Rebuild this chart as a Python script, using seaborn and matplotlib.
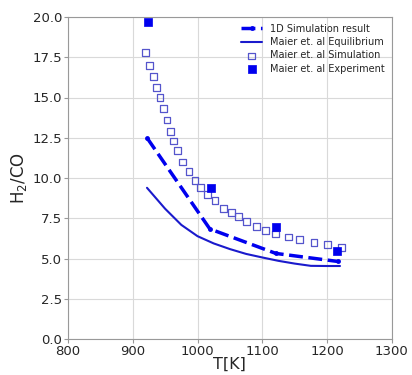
import matplotlib
matplotlib.use("Agg")
import matplotlib.pyplot as plt
import seaborn as sns

# 1D simulation result
sim1d_T = [922, 1019, 1121, 1217]
sim1d_y = [12.5, 6.85, 5.33, 4.83]

# Maier et al. equilibrium
eq_T = [922, 950, 975, 1000, 1025, 1050, 1075, 1100, 1125, 1150, 1175, 1200, 1220]
eq_y = [9.4, 8.1, 7.1, 6.4, 5.95, 5.6, 5.3, 5.08, 4.87, 4.7, 4.56, 4.55, 4.55]

# Maier et al. simulation
msim_T = [920, 926, 932, 937, 942, 947, 953, 958, 963, 969, 977, 987, 996, 1005,
          1016, 1027, 1040, 1052, 1063, 1076, 1091, 1105, 1121, 1140, 1157, 1180, 1201, 1222]
msim_y = [17.8, 17.0, 16.3, 15.6, 15.0, 14.3, 13.6, 12.9, 12.3, 11.7, 11.0, 10.4, 9.85, 9.4,
          8.98, 8.6, 8.1, 7.85, 7.6, 7.3, 7.0, 6.77, 6.54, 6.35, 6.17, 6.0, 5.9, 5.7]

# Maier et al. experiment
exp_T = [923, 1021, 1121, 1216]
exp_y = [19.7, 9.4, 6.95, 5.5]

sns.set_style("whitegrid", {"axes.edgecolor": "0.6", "grid.color": "0.85",
                            "xtick.bottom": True, "ytick.left": True})

fig, ax = plt.subplots(figsize=(4.12, 3.75), dpi=100)
fig.subplots_adjust(left=0.165, right=0.951, top=0.955, bottom=0.095)

sns.lineplot(x=sim1d_T, y=sim1d_y, ax=ax, color="#0000ee", linestyle="--",
             linewidth=2.5, marker="o", markersize=3.5, markeredgewidth=0,
             label="1D Simulation result")
ax.lines[-1].set_dashes([4, 1.6])
sns.lineplot(x=eq_T, y=eq_y, ax=ax, color="#1a1acc", linewidth=1.5,
             label="Maier et. al Equilibrium")
sns.scatterplot(x=msim_T, y=msim_y, ax=ax, marker="s", s=24, facecolor="none",
                edgecolor="#5555cc", linewidth=0.9, label="Maier et. al Simulation")
sns.scatterplot(x=exp_T, y=exp_y, ax=ax, marker="s", s=28, color="#0000ee",
                edgecolor="#0000ee", linewidth=0.5, label="Maier et. al Experiment")

ax.set_xlim(800, 1300)
ax.set_ylim(0, 20)
ax.set_xticks([800, 900, 1000, 1100, 1200, 1300])
ax.set_yticks([0, 2.5, 5, 7.5, 10, 12.5, 15, 17.5, 20])
ax.set_yticklabels(["0.0", "2.5", "5.0", "7.5", "10.0", "12.5", "15.0", "17.5", "20.0"])
ax.tick_params(labelsize=9.5, colors="0.15", length=3, color="0.6", pad=1)
ax.set_xlabel("T[K]", fontsize=11.5)
ax.xaxis.set_label_coords(0.5, -0.055)
ax.set_ylabel("H$_2$/CO", fontsize=12, labelpad=3)

leg = ax.legend(loc="upper right", fontsize=7, frameon=False,
                handlelength=2.2, borderaxespad=0.3, labelspacing=0.35)

fig.savefig("out.png", dpi=100)
